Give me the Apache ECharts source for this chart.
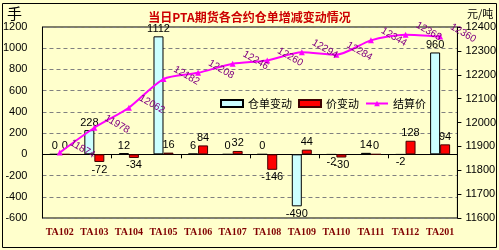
<!DOCTYPE html>
<html>
<head>
<meta charset="utf-8">
<script src="https://cdn.jsdelivr.net/npm/echarts@6/dist/echarts.min.js"></script>
<style>
  html, body { margin: 0; padding: 0; background: #fff; }
  #chart { width: 499px; height: 250px; }
</style>
</head>
<body>
<div id="chart"></div>
<script>
// data
const categories = ['TA102', 'TA103', 'TA104', 'TA105', 'TA106', 'TA107', 'TA108', 'TA109', 'TA110', 'TA111', 'TA112', 'TA201'];
const warrantChange = [0, 228, 12, 1112, 6, 0, 0, -490, -2, 14, -2, 960];
const priceChange = [0, -72, -34, 16, 84, 32, -146, 44, -30, 0, 128, 94];
const settlePrice = [11874, 11978, 12062, 12182, 12208, 12246, 12260, 12294, 12284, 12344, 12368, 12360];
const leftTicks = { min: -600, max: 1200, interval: 200 };
const rightTicks = { min: 11600, max: 12400, interval: 100 };

const chart = echarts.init(document.getElementById('chart'));

// bar labels go above positive bars, below negative ones
function barData(values) {
	return values.map(v => ({
		value: v,
		label: { position: v < 0 ? 'bottom' : 'top' }
	}));
}

const barLabel = {
	show: true,
	color: '#000',
	fontSize: 11,
	fontFamily: 'Liberation Sans',
	distance: 2
};

const plainNumber = v => String(v);

let option = {
	backgroundColor: '#FFFFCC',
	animation: false,
	title: {
		text: '当日PTA期货各合约仓单增减变动情况',
		left: 'center',
		top: 6,
		textStyle: {
			color: '#CC0000',
			fontSize: 12,
			fontWeight: 'bold',
			fontFamily: 'Noto Sans CJK SC'
		}
	},
	graphic: [
		{
			type: 'rect',
			shape: { x: 2.5, y: 3.5, width: 494, height: 244 },
			style: { fill: 'none', stroke: '#000', lineWidth: 1 },
			silent: true
		},
		{
			type: 'text',
			left: 7,
			top: 6,
			style: { text: '手', fontSize: 15, fill: '#000', fontFamily: 'Noto Sans CJK SC' }
		},
		{
			type: 'text',
			left: 467,
			top: 8,
			style: { text: '元/吨', fontSize: 11, fill: '#000', fontFamily: 'Noto Sans CJK SC' }
		}
	],
	legend: {
		left: 215,
		top: 93,
		itemWidth: 22,
		itemHeight: 7,
		itemGap: 6,
		textStyle: { fontSize: 11, color: '#000', fontFamily: 'Noto Sans CJK SC' },
		data: [
			{ name: '仓单变动', icon: 'rect' },
			{ name: '价变动', icon: 'rect' },
			{ name: '结算价' }
		]
	},
	grid: {
		left: 41,
		right: 40,
		top: 27,
		bottom: 32,
		show: true,
		borderColor: '#000',
		borderWidth: 1,
		backgroundColor: 'transparent'
	},
	xAxis: [
		{
			type: 'category',
			data: categories,
			position: 'bottom',
			axisLine: { show: false, onZero: false },
			axisTick: { show: false },
			axisLabel: {
				interval: 0,
				color: '#800000',
				fontSize: 10,
				fontWeight: 'bold',
				fontFamily: 'Liberation Serif',
				margin: 9
			}
		},
		{
			type: 'category',
			data: categories,
			position: 'bottom',
			axisLine: { show: true, onZero: true, onZeroAxisIndex: 0, lineStyle: { color: '#000', width: 1 } },
			axisTick: { show: true, length: 4, lineStyle: { color: '#000' } },
			axisLabel: { show: false }
		}
	],
	yAxis: [
		{
			type: 'value',
			min: leftTicks.min,
			max: leftTicks.max,
			interval: leftTicks.interval,
			axisLine: { show: true, lineStyle: { color: '#000' } },
			axisTick: { show: false },
			axisLabel: { color: '#000', fontSize: 11, fontFamily: 'Liberation Sans', margin: 15, formatter: plainNumber },
			splitLine: { show: true, lineStyle: { color: '#808080', type: [4, 3], width: 1 } }
		},
		{
			type: 'value',
			position: 'right',
			min: rightTicks.min,
			max: rightTicks.max,
			interval: rightTicks.interval,
			axisLine: { show: true, lineStyle: { color: '#000' } },
			axisTick: { show: true, length: 4, lineStyle: { color: '#000' } },
			axisLabel: { color: '#000', fontSize: 11, fontFamily: 'Liberation Sans', margin: 8, formatter: plainNumber },
			splitLine: { show: false }
		}
	],
	series: [
		{
			name: '仓单变动',
			type: 'bar',
			xAxisIndex: 0,
			yAxisIndex: 0,
			barWidth: 10,
			barGap: '0%',
			itemStyle: { color: '#CCFFFF', borderColor: '#000', borderWidth: 1 },
			label: barLabel,
			data: barData(warrantChange),
			z: 2
		},
		{
			name: '价变动',
			type: 'bar',
			xAxisIndex: 0,
			yAxisIndex: 0,
			barWidth: 10,
			barGap: '0%',
			itemStyle: { color: '#FF0000', borderColor: '#400000', borderWidth: 1 },
			label: barLabel,
			data: barData(priceChange),
			z: 2
		},
		{
			name: '结算价',
			type: 'line',
			xAxisIndex: 0,
			yAxisIndex: 1,
			smooth: 0.25,
			symbol: 'triangle',
			symbolSize: 6,
			lineStyle: { color: '#FF00FF', width: 2 },
			itemStyle: { color: '#FF00FF' },
			label: {
				show: true,
				position: 'right',
				distance: 2,
				rotate: -30,
				offset: [0, -12],
				color: '#800080',
				fontSize: 10,
				fontFamily: 'Liberation Sans'
			},
			data: settlePrice,
			z: 5
		}
	]
};

chart.setOption(option);
</script>
</body>
</html>
